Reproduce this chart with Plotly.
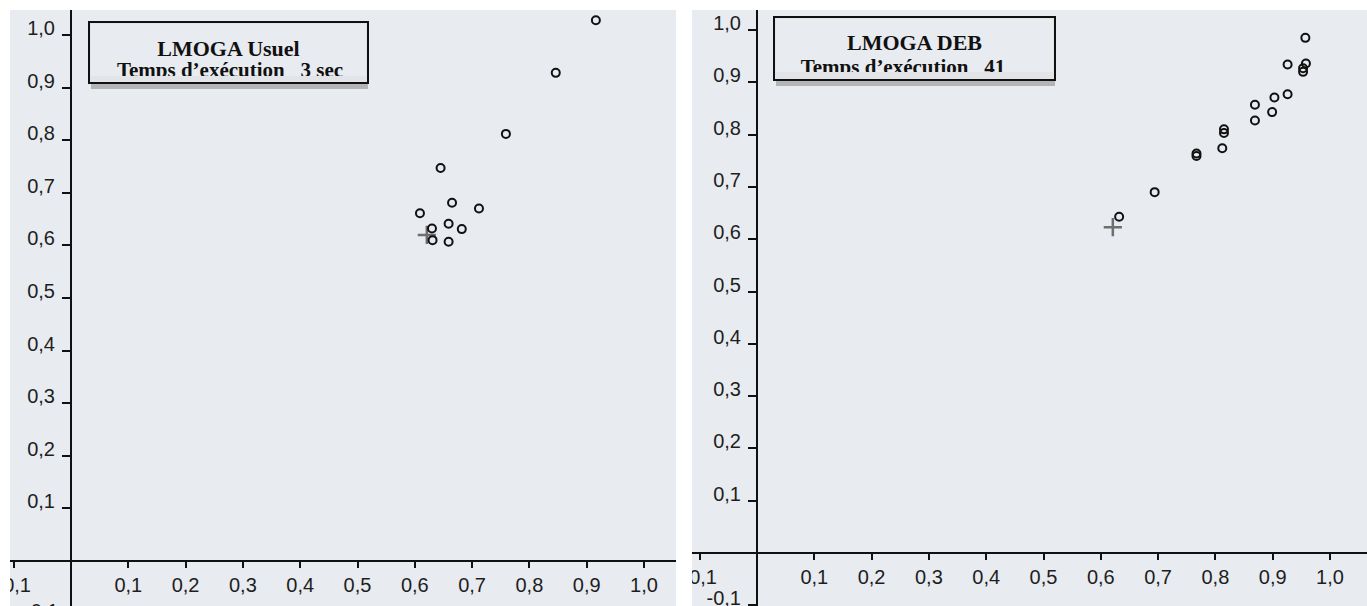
import plotly.graph_objects as go

W, H = 1367, 606

# ---- data -------------------------------------------------------------
usuel_x = [0.916, 0.846, 0.759, 0.645, 0.665, 0.712, 0.609, 0.659, 0.630, 0.682, 0.631, 0.659]
usuel_y = [1.028, 0.928, 0.812, 0.747, 0.681, 0.670, 0.661, 0.641, 0.632, 0.631, 0.610, 0.607]
usuel_ref_x = [0.621]
usuel_ref_y = [0.620]

deb_x = [0.957, 0.926, 0.958, 0.953, 0.953, 0.926, 0.903, 0.869, 0.899, 0.869,
         0.815, 0.815, 0.812, 0.767, 0.767, 0.694, 0.632]
deb_y = [0.985, 0.934, 0.936, 0.927, 0.920, 0.877, 0.871, 0.857, 0.843, 0.827,
         0.810, 0.803, 0.774, 0.764, 0.759, 0.690, 0.643]
deb_ref_x = [0.621]
deb_ref_y = [0.623]

tick_vals = [-0.1, 0.1, 0.2, 0.3, 0.4, 0.5, 0.6, 0.7, 0.8, 0.9, 1.0]
tick_text = ["-0,1", "0,1", "0,2", "0,3", "0,4", "0,5", "0,6", "0,7", "0,8", "0,9", "1,0"]

titles = ["LMOGA Usuel", "LMOGA DEB"]
subtitles = ["Temps d\u2019ex\u00e9cution\u00a0\u00a0\u00a03 sec",
             "Temps d\u2019ex\u00e9cution\u00a0\u00a0\u00a041"]

# ---- geometry (pixels) -------------------------------------------------
PANEL_TOP = 10
panels = [
    # left edge, right edge, origin x, origin y, px per unit x, px per unit y
    dict(x0=10, x1=676, ox=71, oy=561, ux=573, uy=526),
    dict(x0=692, x1=W, ox=757, oy=553, ux=573, uy=523),
]
boxes = [
    dict(x0=89, x1=368, y0=22, y1=83, clip=76, tx=228.5, ty=50.6, sx=230, sy=71.6),
    dict(x0=774, x1=1055, y0=17, y1=80, clip=72, tx=914.5, ty=44.6, sx=903, sy=68.7),
]

BG = "#e8ebf0"
AXIS_FONT = dict(family="Liberation Sans, Arial, sans-serif", size=20, color="#1e1e1e")


def px_x(p):
    return p / W


def px_y(p):
    return 1 - p / H


fig = go.Figure()
layout = dict(
    width=W, height=H,
    margin=dict(l=0, r=0, t=0, b=0, pad=0),
    paper_bgcolor="white",
    plot_bgcolor=BG,
    showlegend=False,
    shapes=[], annotations=[],
)

for i, p in enumerate(panels):
    n = "" if i == 0 else "2"
    xdom = [px_x(p["x0"]), px_x(p["x1"])]
    ydom = [0, px_y(PANEL_TOP)]
    xr = [(p["x0"] - p["ox"]) / p["ux"], (p["x1"] - p["ox"]) / p["ux"]]
    yr = [(p["oy"] - H) / p["uy"], (p["oy"] - PANEL_TOP) / p["uy"]]
    common = dict(
        showline=True, linecolor="#111111", linewidth=2,
        showgrid=False, zeroline=False, automargin=False,
        ticks="outside", tickcolor="#111111", tickwidth=1.5,
        tickmode="array", tickvals=tick_vals, ticktext=tick_text,
        tickfont=AXIS_FONT, anchor="free", fixedrange=True,
        ticklabeloverflow="allow",
    )
    layout["xaxis" + n] = dict(common, domain=xdom, range=xr, ticklen=6,
                               position=px_y(p["oy"]), ticklabelstandoff=0)
    layout["yaxis" + n] = dict(common, domain=ydom, range=yr, ticklen=8,
                               position=px_x(p["ox"]), ticklabelshift=-7,
                               ticklabelstandoff=3)

# points
for xs, ys, rx, ry, n in [(usuel_x, usuel_y, usuel_ref_x, usuel_ref_y, ""),
                          (deb_x, deb_y, deb_ref_x, deb_ref_y, "2")]:
    fig.add_trace(go.Scatter(
        x=rx, y=ry, mode="markers", xaxis="x" + n, yaxis="y" + n,
        marker=dict(symbol="cross-thin-open", size=13, color="#6e6e6e",
                    line=dict(color="#6e6e6e", width=2.5)),
        hoverinfo="skip"))
    fig.add_trace(go.Scatter(
        x=xs, y=ys, mode="markers", xaxis="x" + n, yaxis="y" + n,
        marker=dict(symbol="circle-open", size=8, color="#111111",
                    line=dict(color="#111111", width=2)),
        hoverinfo="skip"))

# title boxes: each gets its own hidden subplot so the subtitle is clipped
for i, b in enumerate(boxes):
    n = str(i + 3)
    layout["xaxis" + n] = dict(domain=[px_x(b["x0"] + 2), px_x(b["x1"] - 2)],
                               range=[b["x0"] + 2, b["x1"] - 2], visible=False,
                               anchor="y" + n, fixedrange=True, automargin=False)
    layout["yaxis" + n] = dict(domain=[px_y(b["clip"]), px_y(b["y0"] + 2)],
                               range=[b["clip"], b["y0"] + 2], visible=False,
                               anchor="x" + n, fixedrange=True, automargin=False)
    # shadow
    layout["shapes"].append(dict(
        type="rect", xref="paper", yref="paper", layer="below",
        x0=px_x(b["x0"] + 2), x1=px_x(b["x1"]),
        y0=px_y(b["y1"] + 6), y1=px_y(b["y1"]),
        fillcolor="#9c9c9c", line=dict(width=0), opacity=0.7))
    # box
    layout["shapes"].append(dict(
        type="rect", xref="paper", yref="paper", layer="below",
        x0=px_x(b["x0"]), x1=px_x(b["x1"]),
        y0=px_y(b["y1"]), y1=px_y(b["y0"]),
        fillcolor="#e3e4e7", line=dict(color="#111111", width=2)))
    fig.add_trace(go.Scatter(
        x=[b["tx"], b["sx"]], y=[b["ty"], b["sy"]],
        text=["<b>%s</b>" % titles[i], "<b>%s</b>" % subtitles[i]],
        mode="text", textposition="middle center",
        textfont=dict(family="Liberation Serif, Times New Roman, serif",
                      size=[22, 21], color="#111111"),
        xaxis="x" + n, yaxis="y" + n, cliponaxis=True, hoverinfo="skip"))

# white gutters clip the leftmost x tick labels at each panel edge
for g0, g1 in [(0, panels[0]["x0"]), (panels[0]["x1"], panels[1]["x0"])]:
    layout["shapes"].append(dict(
        type="rect", xref="paper", yref="paper", layer="above",
        x0=px_x(g0), x1=px_x(g1), y0=0, y1=1,
        fillcolor="white", line=dict(width=0)))

# the -0,1 label of the left panel falls just below the page edge
layout["annotations"].append(dict(
    text="-0,1", xref="paper", yref="paper",
    x=px_x(panels[0]["ox"] - 11), xanchor="right",
    y=0, yanchor="top", yshift=8, showarrow=False,
    font=AXIS_FONT))

fig.update_layout(**layout)
fig.write_html("out.html", config={"displayModeBar": False})
